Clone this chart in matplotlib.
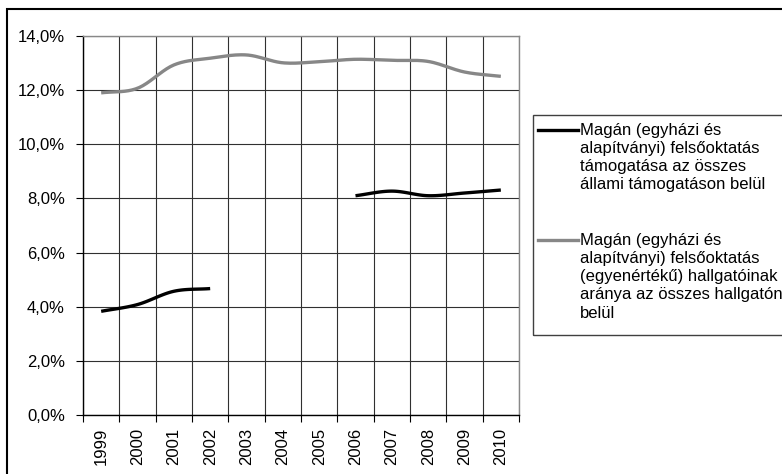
import numpy as np
import matplotlib
matplotlib.use("Agg")
import matplotlib.pyplot as plt
from matplotlib.patches import Rectangle
from matplotlib.lines import Line2D
from matplotlib.ticker import FuncFormatter

plt.rcParams['font.family'] = ['Liberation Sans', 'DejaVu Sans']

years = ["1999", "2000", "2001", "2002", "2003", "2004",
         "2005", "2006", "2007", "2008", "2009", "2010"]
tamogatas = [3.83, 4.08, 4.57, 4.67, np.nan, np.nan,
             np.nan, 8.10, 8.27, 8.10, 8.20, 8.31]
hallgatok = [11.90, 12.07, 12.93, 13.18, 13.30, 13.01,
             13.05, 13.14, 13.10, 13.06, 12.67, 12.51]

label_1 = ["Magán (egyházi és", "alapítványi) felsőoktatás",
           "támogatása az összes", "állami támogatáson belül"]
label_2 = ["Magán (egyházi és", "alapítványi) felsőoktatás",
           "(egyenértékű) hallgatóinak", "aránya az összes hallgatón",
           "belül"]

W, H = 782, 474
FS = 12


def px(x, y):
    # pixel coords (from top-left) -> figure fraction
    return x / W, 1 - y / H


def smooth(x, y, n=20):
    # Catmull-Rom curve through the points, like Excel's smoothed line
    x = np.asarray(x, float)
    y = np.asarray(y, float)
    t = np.linspace(0, 1, n, endpoint=False)
    h00 = 2 * t**3 - 3 * t**2 + 1
    h10 = t**3 - 2 * t**2 + t
    h01 = -2 * t**3 + 3 * t**2
    h11 = t**3 - t**2
    xs, ys = [], []
    last = len(x) - 1
    for i in range(last):
        for arr, out in ((x, xs), (y, ys)):
            a1, a2 = arr[i], arr[i + 1]
            m1 = (a2 - arr[i - 1]) / 2 if i > 0 else (a2 - a1)
            m2 = (arr[i + 2] - a1) / 2 if i + 2 <= last else (a2 - a1)
            out.extend(h00 * a1 + h10 * m1 + h01 * a2 + h11 * m2)
    xs.append(x[-1])
    ys.append(y[-1])
    return np.array(xs), np.array(ys)


def segments(vals):
    vals = np.asarray(vals, float)
    segs, cur = [], []
    for i, v in enumerate(vals):
        if not np.isnan(v):
            cur.append(i)
        elif cur:
            segs.append(cur)
            cur = []
    if cur:
        segs.append(cur)
    return [(np.array(s), vals[s]) for s in segs]


fig = plt.figure(figsize=(W / 100, H / 100), dpi=100)
ax = fig.add_axes([83 / W, 1 - 415 / H, (519 - 83) / W, (415 - 36) / H])

x = np.arange(len(years))
for xx, yy in segments(hallgatok):
    sx, sy = smooth(xx, yy)
    ax.plot(sx, sy, color="#878787", lw=2.4, solid_capstyle="butt", zorder=3)
for xx, yy in segments(tamogatas):
    sx, sy = smooth(xx, yy)
    ax.plot(sx, sy, color="black", lw=2.4, solid_capstyle="butt", zorder=4)

ax.set_xlim(-0.5, len(years) - 0.5)
ax.set_ylim(0, 14)
ax.set_yticks(np.arange(0, 15, 2))
ax.yaxis.set_major_formatter(FuncFormatter(lambda v, p: f"{v:.1f}%".replace(".", ",")))

ax.set_xticks(np.arange(-0.5, len(years), 1))
ax.set_xticklabels([])
ax.set_xticks(x, minor=True)
ax.set_xticklabels(years, minor=True, rotation=90)
ax.tick_params(axis="x", which="minor", length=0, pad=9, labelsize=FS)
ax.tick_params(axis="x", which="major", length=5, width=0.8, direction="out")
ax.tick_params(axis="y", length=5, width=0.8, direction="out", pad=8, labelsize=FS)

ax.grid(True, which="major", color="#303030", lw=0.8)
ax.set_axisbelow(True)
for s in ["left", "bottom"]:
    ax.spines[s].set_color("black")
    ax.spines[s].set_linewidth(1.0)
for s in ["top", "right"]:
    ax.spines[s].set_color("#888888")
    ax.spines[s].set_linewidth(1.0)

# outer chart frame
x0, y0 = px(7, 9)
fig.add_artist(Rectangle((x0, -0.1), 1.2, y0 + 0.1, transform=fig.transFigure,
                         fill=False, edgecolor="black", lw=1.5))

# legend box
lx, ly = px(533, 335)
fig.add_artist(Rectangle((lx, ly), 1.0, (335 - 115) / H, transform=fig.transFigure,
                         fill=False, edgecolor="#404040", lw=1.0))
for lines, color, ytop in ((label_1, "black", 130), (label_2, "#878787", 240)):
    a, b = px(538, ytop)
    c, _ = px(578, ytop)
    fig.add_artist(Line2D([a, c], [b, b], transform=fig.transFigure,
                          color=color, lw=2.4))
    for k, t in enumerate(lines):
        tx, ty = px(580, ytop + k * 18.3)
        fig.text(tx, ty, t, ha="left", va="center", fontsize=FS)

fig.savefig("out.png", dpi=100)
